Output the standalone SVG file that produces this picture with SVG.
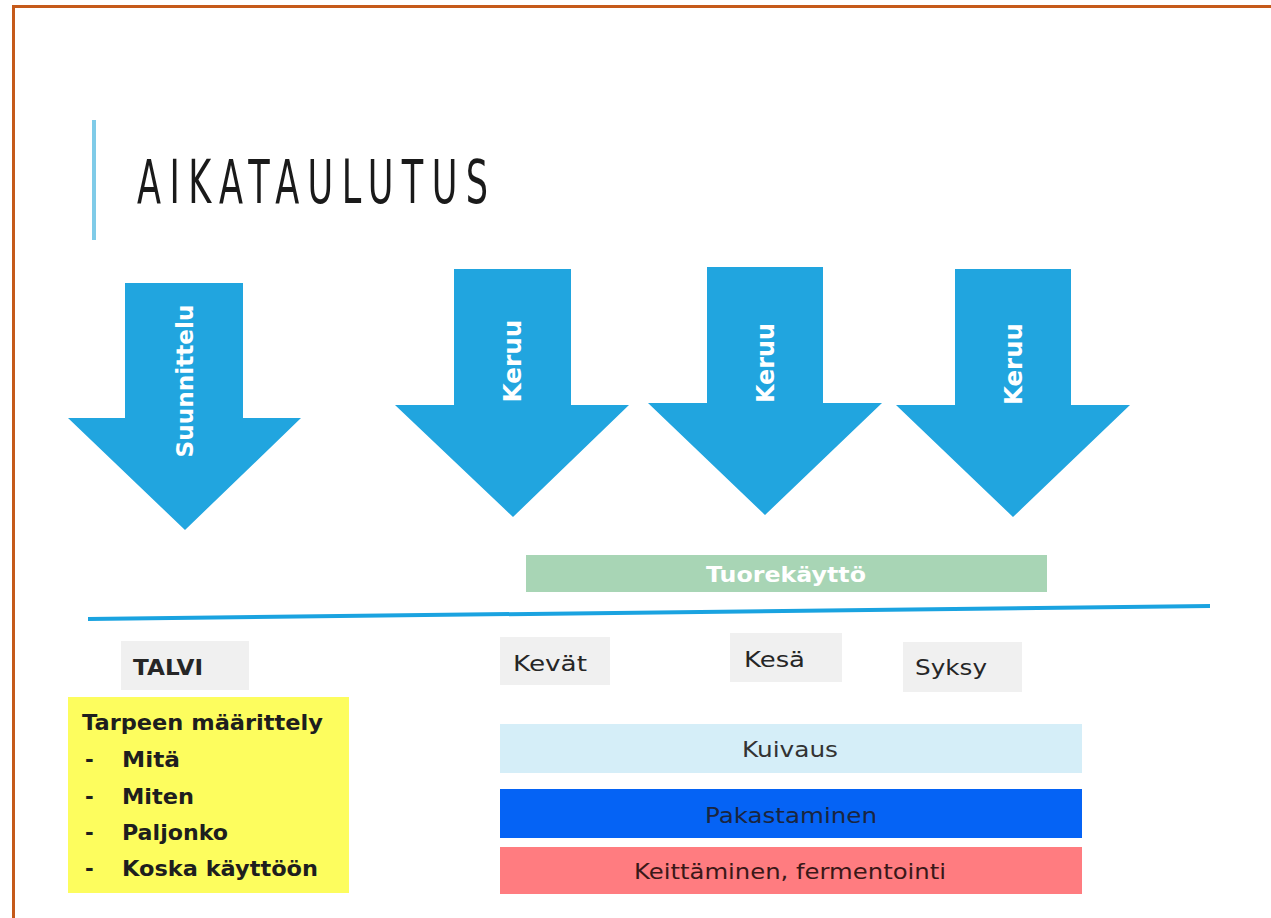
<svg xmlns="http://www.w3.org/2000/svg" width="1271" height="918" viewBox="0 0 1271 918">
  <style>
    .arrow { fill: #21a5df; }
    .atext { font-family: "DejaVu Sans", "Liberation Sans", sans-serif; font-weight: bold; fill: #ffffff; text-anchor: middle; }
    .season { fill: #f0f0f0; }
    .stext { font-family: "DejaVu Sans", "Liberation Sans", sans-serif; font-size: 22px; fill: #262626; }
    .btext { font-family: "DejaVu Sans", "Liberation Sans", sans-serif; font-size: 22px; text-anchor: middle; }
    .ytext { font-family: "DejaVu Sans", "Liberation Sans", sans-serif; font-size: 21px; font-weight: bold; fill: #1e1e1e; }
  </style>
  <rect x="0" y="0" width="1271" height="918" fill="#ffffff"/>
  <!-- frame -->
  <rect x="12" y="5" width="1259" height="3" fill="#c55a1a"/>
  <rect x="12" y="5" width="3" height="913" fill="#c55a1a"/>

  <g id="title">
    <rect x="92" y="120" width="4" height="120" fill="#7fcbe8"/>
    <text transform="scale(0.65,1)" x="210.8" y="203" font-family="DejaVu Sans Condensed, DejaVu Sans, sans-serif" font-size="60" fill="#1a1a1a" textLength="540" lengthAdjust="spacing">AIKATAULUTUS</text>
  </g>

  <g id="arrow-suunnittelu">
    <polygon class="arrow" points="125,283 243,283 243,418 301,418 185,530 68,418 125,418"/>
    <text class="atext" font-size="23" transform="translate(185,381) rotate(-90)" x="0" y="8" textLength="153" lengthAdjust="spacingAndGlyphs">Suunnittelu</text>
  </g>
  <g id="arrow-keruu-1">
    <polygon class="arrow" points="454,269 571,269 571,405 629,405 513,517 395,405 454,405"/>
    <text class="atext" font-size="25" transform="translate(512,361) rotate(-90)" x="0" y="9" textLength="83" lengthAdjust="spacingAndGlyphs">Keruu</text>
  </g>
  <g id="arrow-keruu-2">
    <polygon class="arrow" points="707,267 823,267 823,403 882,403 765,515 648,403 707,403"/>
    <text class="atext" font-size="25" transform="translate(765,363) rotate(-90)" x="0" y="9" textLength="80" lengthAdjust="spacingAndGlyphs">Keruu</text>
  </g>
  <g id="arrow-keruu-3">
    <polygon class="arrow" points="955,269 1071,269 1071,405 1130,405 1013,517 896,405 955,405"/>
    <text class="atext" font-size="25" transform="translate(1013,364) rotate(-90)" x="0" y="9" textLength="82" lengthAdjust="spacingAndGlyphs">Keruu</text>
  </g>

  <g id="tuorekaytto">
    <rect x="526" y="555" width="521" height="37" fill="#a8d5b5"/>
    <text x="786" y="582" font-family="DejaVu Sans, Liberation Sans, sans-serif" font-size="22" font-weight="bold" fill="#ffffff" text-anchor="middle" textLength="160" lengthAdjust="spacingAndGlyphs">Tuorekäyttö</text>
  </g>

  <g id="connectors">
    <line x1="88" y1="619" x2="1210" y2="606" stroke="#1aa3e0" stroke-width="4"/>
  </g>

  <g id="talvi">
    <rect class="season" x="121" y="641" width="128" height="49"/>
    <text class="stext" x="133" y="675" font-weight="bold" textLength="70" lengthAdjust="spacingAndGlyphs">TALVI</text>
  </g>
  <g id="kevat">
    <rect class="season" x="500" y="637" width="110" height="48"/>
    <text class="stext" x="513" y="671" textLength="74" lengthAdjust="spacingAndGlyphs">Kevät</text>
  </g>
  <g id="kesa">
    <rect class="season" x="730" y="633" width="112" height="49"/>
    <text class="stext" x="744" y="667" textLength="61" lengthAdjust="spacingAndGlyphs">Kesä</text>
  </g>
  <g id="syksy">
    <rect class="season" x="903" y="642" width="119" height="50"/>
    <text class="stext" x="915" y="675" textLength="72" lengthAdjust="spacingAndGlyphs">Syksy</text>
  </g>

  <g id="tarpeen">
    <rect x="68" y="697" width="281" height="196" fill="#fdfd5e"/>
    <text class="ytext" x="82" y="730" textLength="241" lengthAdjust="spacingAndGlyphs">Tarpeen määrittely</text>
    <text class="ytext" x="85" y="767">-</text>
    <text class="ytext" x="122" y="767" textLength="58" lengthAdjust="spacingAndGlyphs">Mitä</text>
    <text class="ytext" x="85" y="804">-</text>
    <text class="ytext" x="122" y="804" textLength="72" lengthAdjust="spacingAndGlyphs">Miten</text>
    <text class="ytext" x="85" y="840">-</text>
    <text class="ytext" x="122" y="840" textLength="106" lengthAdjust="spacingAndGlyphs">Paljonko</text>
    <text class="ytext" x="85" y="876">-</text>
    <text class="ytext" x="122" y="876" textLength="196" lengthAdjust="spacingAndGlyphs">Koska käyttöön</text>
  </g>

  <g id="kuivaus">
    <rect x="500" y="724" width="582" height="49" fill="#d5eef8"/>
    <text class="btext" x="790" y="757" fill="#333333" textLength="96" lengthAdjust="spacingAndGlyphs">Kuivaus</text>
  </g>
  <g id="pakastaminen">
    <rect x="500" y="789" width="582" height="49" fill="#0563f5"/>
    <text class="btext" x="791" y="823" fill="#1a2540" textLength="172" lengthAdjust="spacingAndGlyphs">Pakastaminen</text>
  </g>
  <g id="keittaminen">
    <rect x="500" y="847" width="582" height="47" fill="#ff7c80"/>
    <text class="btext" x="790" y="879" fill="#3a1818" textLength="312" lengthAdjust="spacingAndGlyphs">Keittäminen, fermentointi</text>
  </g>
</svg>
